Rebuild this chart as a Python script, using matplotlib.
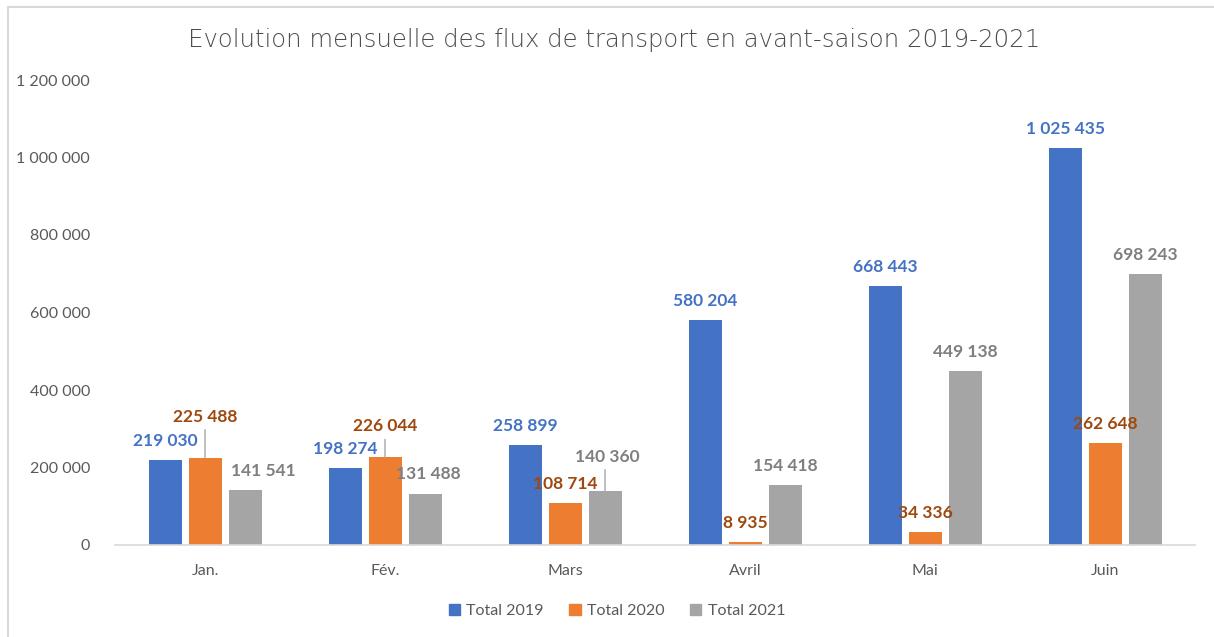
import matplotlib
matplotlib.use("Agg")
import matplotlib.pyplot as plt
import numpy as np
from matplotlib.lines import Line2D
from matplotlib.patches import Rectangle

categories = ["Jan.", "Fév.", "Mars", "Avril", "Mai", "Juin"]
series_names = ["Total 2019", "Total 2020", "Total 2021"]
total_2019 = [219030, 198274, 258899, 580204, 668443, 1025435]
total_2020 = [225488, 226044, 108714, 8935, 34336, 262648]
total_2021 = [141541, 131488, 140360, 154418, 449138, 698243]
yticks = [0, 200000, 400000, 600000, 800000, 1000000, 1200000]

bar_colors = ["#4472C4", "#ED7D31", "#A5A5A5"]
label_colors = ["#4472C4", "#9E480E", "#7F7F7F"]

# label placement tweaks (pixel offsets: dx, dy above bar top, leader line)
default_off = (0, 19, False)
special = {
    (1, 0): (0, 41, True),
    (2, 0): (18, 19, False),
    (1, 1): (0, 31, True),
    (2, 1): (3, 20, False),
    (2, 2): (2, 34, True),
}

def fmt(v):
    return f"{v:,}".replace(",", " ")

plt.rcParams['font.family'] = ['Lato', 'DejaVu Sans']

fig = plt.figure(figsize=(12.14, 6.37), dpi=100)
ax = fig.add_axes([115/1214, 1-545/637, 1080/1214, (545-80)/637])

# frame
fig.add_artist(Line2D([8/1214, 8/1214], [0, 1-7/637], transform=fig.transFigure, color="#D9D9D9", lw=1.5))
fig.add_artist(Line2D([8/1214, 1], [1-7/637, 1-7/637], transform=fig.transFigure, color="#D9D9D9", lw=1.5))

x = np.arange(len(categories))
step = 40/180
width = 33/180
data = [total_2019, total_2020, total_2021]
for s, vals in enumerate(data):
    pos = x + (s-1)*step
    ax.bar(pos, vals, width=width, color=bar_colors[s], label=series_names[s], zorder=2)
    for c, (p, v) in enumerate(zip(pos, vals)):
        dx, dy, leader = special.get((s, c), default_off)
        ax.annotate(fmt(v), xy=(p, v), xytext=(dx, dy), textcoords="offset pixels",
                    ha="center", va="center", fontsize=12.5, fontweight="bold",
                    color=label_colors[s], zorder=4)
        if leader:
            ax.annotate("", xy=(p, v), xytext=(0, dy-13), textcoords="offset pixels",
                        xycoords="data",
                        arrowprops=dict(arrowstyle="-", color="#A6A6A6", lw=1,
                                        shrinkA=0, shrinkB=0))

ax.set_xlim(-0.5, len(categories)-0.5)
ax.set_ylim(0, 1200000)
ax.set_yticks(yticks)
ax.set_yticklabels([fmt(t) for t in yticks])
ax.set_xticks(x)
ax.set_xticklabels(categories)
ax.tick_params(axis="both", length=0, labelsize=11.5, labelcolor="#595959")
ax.tick_params(axis="x", pad=14)
ax.tick_params(axis="y", pad=18)
for sp in ["top", "right", "left"]:
    ax.spines[sp].set_visible(False)
ax.spines["bottom"].set_color("#D9D9D9")
ax.spines["bottom"].set_linewidth(1.2)

fig.text(614/1214, 1-40/637, "Evolution mensuelle des flux de transport en avant-saison 2019-2021",
         ha="center", va="center", fontsize=17.6, color="#4D4D4D", fontfamily=["DejaVu Sans"],
         fontweight="light")

handles = [Rectangle((0, 0), 1, 1, color=c) for c in bar_colors]
fig.legend(handles, series_names, loc="center", bbox_to_anchor=(617/1214, 1-611/637), ncol=3,
           frameon=False, fontsize=11.5, labelcolor="#595959", handlelength=0.7, handleheight=0.7,
           handletextpad=0.4, columnspacing=1.6)

fig.savefig("out.png", dpi=100)
